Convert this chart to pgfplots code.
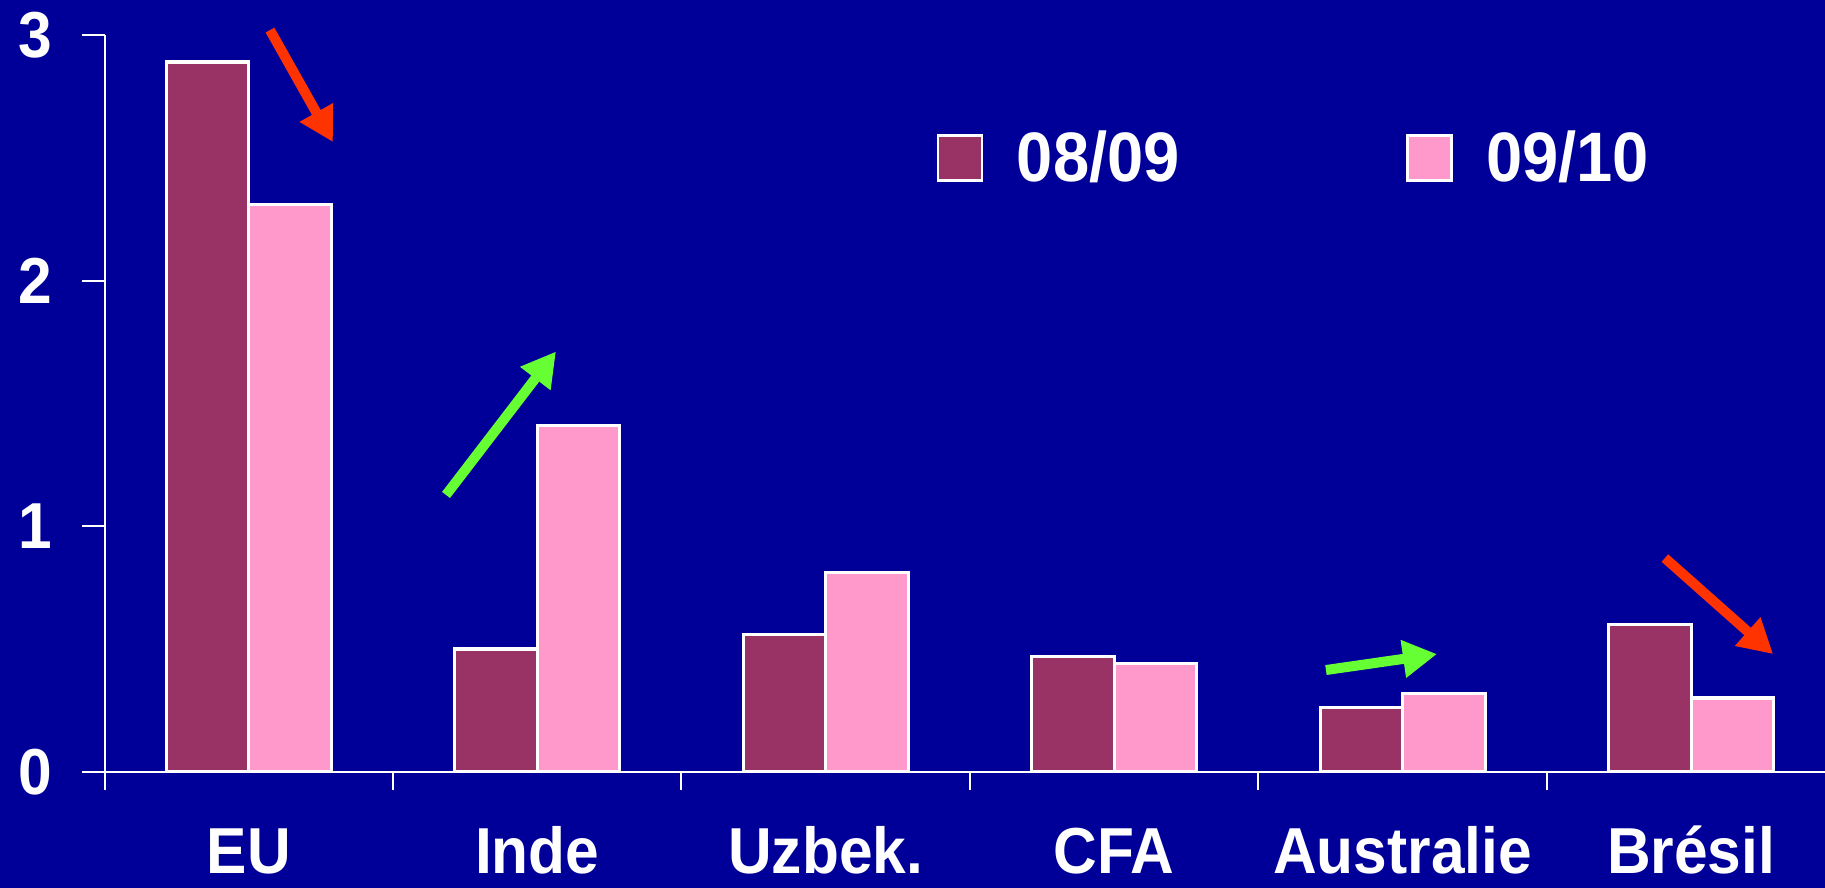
\documentclass[border=0pt]{standalone}
\usepackage{fontspec}
\setmainfont{Liberation Sans}[FakeStretch=0.93]
\usepackage{pgfplots}
\pgfplotsset{compat=1.18}
\usetikzlibrary{arrows.meta}
\definecolor{bg}{HTML}{000099}
\definecolor{barA}{HTML}{993366}
\definecolor{barB}{HTML}{FF99CC}
\definecolor{redarrow}{HTML}{FF3300}
\definecolor{greenarrow}{HTML}{66FF33}
\begin{document}
\begin{tikzpicture}
\fill[bg] (0,0) rectangle (912.5pt,444pt);
\useasboundingbox (0,0) rectangle (912.5pt,444pt);
\begin{axis}[
  at={(52.25pt,58.15pt)}, anchor=south west,
  scale only axis, width=860.25pt, height=368.35pt,
  xmin=-0.5, xmax=5.464, ymin=0, ymax=3,
  clip=false,
  axis x line=bottom, axis y line=left,
  axis line style={white, line width=1pt, -},
  tick align=outside,
  ytick={0,1,2,3},
  major tick length=11pt, minor tick length=9pt,
  every tick/.style={white, line width=1pt},
  xtick={0,1,2,3,4,5},
  xticklabels={EU,Inde,Uzbek.,CFA,Australie,Brésil},
  major x tick style={draw=none},
  minor xtick={-0.5,0.5,1.5,2.5,3.5,4.5},
  ticklabel style={text=white, font=\bfseries\fontsize{32.5}{33}\selectfont},
  /pgf/number format/assume math mode=true,
  xticklabel style={anchor=base, inner sep=0pt, text depth=0pt, yshift=-40pt},
  yticklabel style={anchor=east, xshift=-11.5pt},
  legend columns=2,
  legend style={at={(axis cs:2.362,2.5)}, anchor=west, draw=none, fill=none,
    text=white, font=\bfseries\fontsize{35}{36}\selectfont,
    nodes={inner sep=0pt, anchor=west},
    /tikz/every odd column/.append style={column sep=16.75pt},
    /tikz/every even column/.append style={column sep=113pt}},
  legend image code/.code={\draw[#1, line width=1.4pt] (0pt,-11.25pt) rectangle (22pt,11.25pt);},
]
\addplot[ybar, bar width=0.286, bar shift=-0.143, fill=barA, draw=white, line width=1.6pt]
  coordinates {(0,2.89) (1,0.50) (2,0.56) (3,0.47) (4,0.26) (5,0.60)};
\addplot[ybar, bar width=0.286, bar shift=0.143, fill=barB, draw=white, line width=1.6pt]
  coordinates {(0,2.31) (1,1.41) (2,0.81) (3,0.44) (4,0.32) (5,0.30)};
\legend{08/09,09/10}
\draw[redarrow, line width=5pt, -{Triangle[length=17pt,width=18pt]}] (axis cs:0.0737,3.020) -- (axis cs:0.292,2.564);
\draw[greenarrow, line width=5pt, -{Triangle[length=17pt,width=18pt]}] (axis cs:0.684,1.127) -- (axis cs:1.065,1.711);
\draw[greenarrow, line width=5pt, -{Triangle[length=17pt,width=18pt]}] (axis cs:3.734,0.414) -- (axis cs:4.119,0.479);
\draw[redarrow, line width=5pt, -{Triangle[length=17pt,width=18pt]}] (axis cs:4.909,0.870) -- (axis cs:5.284,0.479);
\end{axis}
\end{tikzpicture}
\end{document}
